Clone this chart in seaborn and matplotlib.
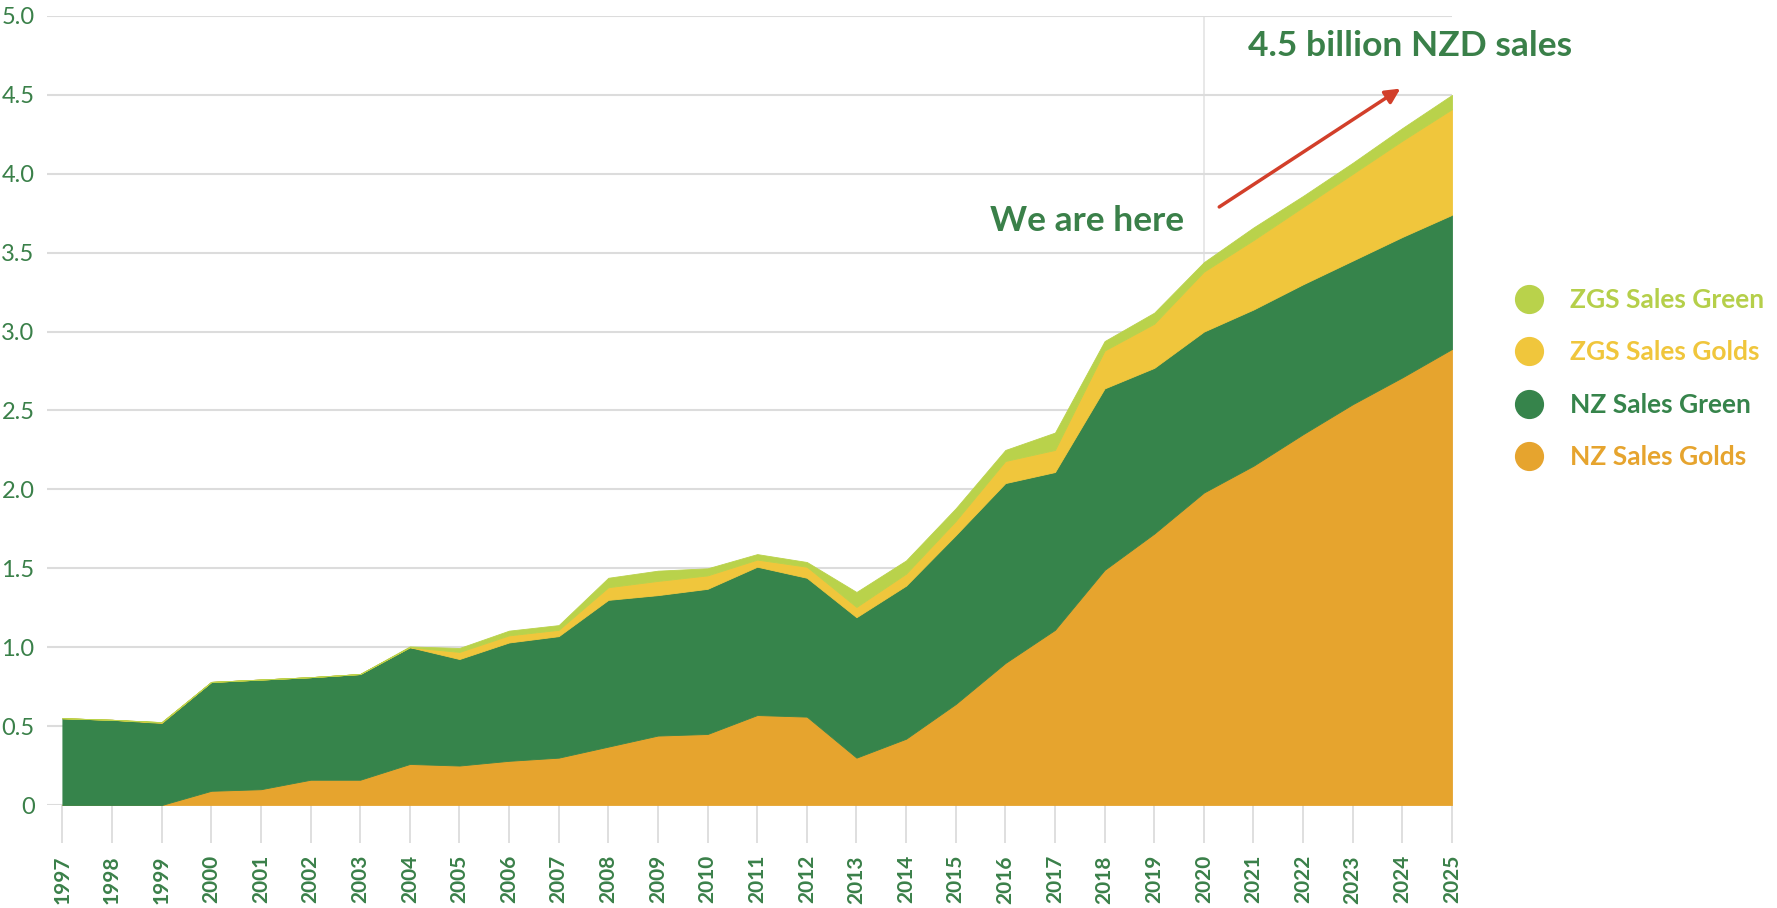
import numpy as np
import matplotlib
matplotlib.use("Agg")
import matplotlib.pyplot as plt
from matplotlib.lines import Line2D
import seaborn as sns

years = list(range(1997, 2026))

# sales in billion NZD, one layer per series (stacked bottom to top)
nz_golds = [0.00, 0.00, 0.00, 0.09, 0.10, 0.16, 0.16, 0.26, 0.25, 0.28,
            0.30, 0.37, 0.44, 0.45, 0.57, 0.56, 0.30, 0.42, 0.64, 0.90,
            1.11, 1.49, 1.72, 1.98, 2.15, 2.35, 2.54, 2.71, 2.89]
nz_green = [0.55, 0.54, 0.52, 0.69, 0.695, 0.65, 0.67, 0.74, 0.675, 0.75,
            0.77, 0.93, 0.89, 0.92, 0.94, 0.88, 0.89, 0.97, 1.07, 1.14,
            1.00, 1.15, 1.05, 1.02, 0.99, 0.95, 0.91, 0.89, 0.85]
zgs_golds = [0.00, 0.00, 0.005, 0.00, 0.00, 0.00, 0.00, 0.00, 0.045, 0.045,
             0.04, 0.08, 0.09, 0.085, 0.045, 0.07, 0.065, 0.076, 0.09, 0.14,
             0.14, 0.24, 0.28, 0.38, 0.44, 0.49, 0.55, 0.61, 0.67]
zgs_green = [0.00, 0.00, 0.00, 0.00, 0.00, 0.00, 0.00, 0.005, 0.025, 0.03,
             0.03, 0.06, 0.065, 0.045, 0.035, 0.03, 0.095, 0.084, 0.08, 0.07,
             0.11, 0.06, 0.07, 0.06, 0.08, 0.07, 0.07, 0.08, 0.09]

series = ["NZ Sales Golds", "NZ Sales Green", "ZGS Sales Golds", "ZGS Sales Green"]
colors = ["#e6a42e", "#36844b", "#f0c63c", "#b9d24b"]
text_colors = ["#e6a42e", "#36844b", "#f0c63c", "#b5cf4a"]
label_green = "#3a8049"

yticks = [0, 0.5, 1.0, 1.5, 2.0, 2.5, 3.0, 3.5, 4.0, 4.5, 5.0]
ytick_labels = ["0", "0.5", "1.0", "1.5", "2.0", "2.5", "3.0", "3.5", "4.0", "4.5", "5.0"]

sns.set_theme(style="white")
plt.rcParams["font.family"] = ["Lato", "DejaVu Sans"]

fig = plt.figure(figsize=(17.77, 9.08), dpi=100)
ax = fig.add_axes([47 / 1777, 1 - 805 / 908, (1452 - 47) / 1777, (805 - 16) / 908])

ax.stackplot(years, nz_golds, nz_green, zgs_golds, zgs_green,
             colors=colors, linewidth=0.6, edgecolor="face", zorder=2)

ax.set_xlim(1996.69, 2025)
ax.set_ylim(0, 5)
ax.set_yticks(yticks)
ax.set_yticklabels(ytick_labels)
ax.set_xticks(years)
ax.set_xticklabels([str(y) for y in years], rotation=90)

ax.yaxis.grid(True, color="#dcdcdc", linewidth=1.5, zorder=0)
ax.axvline(2020, color="#e4e4e4", linewidth=1.2, zorder=0)
sns.despine(ax=ax, left=True, bottom=True, right=True, top=True)

ax.tick_params(axis="y", length=0, pad=9, labelsize=17, labelcolor=label_green)
ax.tick_params(axis="x", length=27, width=1.2, color="#d9d9d9", pad=9,
               labelsize=15, labelcolor=label_green, bottom=True, direction="out")
for lab in ax.get_xticklabels():
    lab.set_fontweight("bold")

ax.text(2020.88, 4.81, "4.5 billion NZD sales", ha="left", va="center",
        fontsize=25.5, fontweight="bold", color=label_green)
ax.text(2019.61, 3.70, "We are here", ha="right", va="center",
        fontsize=25.5, fontweight="bold", color=label_green)
ax.annotate("", xy=(2023.96, 4.54), xytext=(2020.31, 3.79),
            arrowprops=dict(arrowstyle="-|>", color="#d23f2a", lw=2.5,
                            mutation_scale=22, shrinkA=0, shrinkB=0))

handles = [Line2D([0], [0], marker="o", linestyle="", markersize=20,
                  markerfacecolor=c, markeredgecolor=c) for c in colors[::-1]]
leg = fig.legend(handles, series[::-1], loc="upper left",
                 bbox_to_anchor=(1479 / 1777, 1 - 264 / 908),
                 frameon=False, fontsize=19, labelspacing=1.08,
                 handletextpad=0.55, labelcolor=text_colors[::-1])
for t in leg.get_texts():
    t.set_fontweight("bold")

fig.savefig("out.png", dpi=100, facecolor="white")
